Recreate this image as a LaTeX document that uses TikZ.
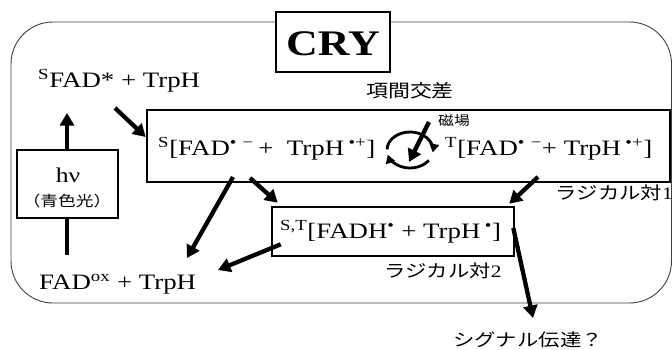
\documentclass[tikz,border=0pt]{standalone}
\usepackage{fontspec}
\setmainfont{Liberation Serif}
\newfontfamily\jp{Noto Sans CJK JP}
\usetikzlibrary{arrows.meta,calc,backgrounds}
\newcommand{\sx}[1]{\scalebox{1.22}[1]{#1}}
\begin{document}
\begin{tikzpicture}[x=1pt,y=1pt,
  txt/.style={inner sep=0pt, font=\fontsize{22}{26}\selectfont},
  jpt/.style={inner sep=0pt, font=\jp\fontsize{17.5}{20}\selectfont},
  box/.style={draw, line width=2.6pt, inner sep=0pt, fill=white},
  thinbox/.style={draw, line width=1.1pt, inner sep=0pt, fill=white},
  arr/.style={line width=4.3pt, -{Triangle[length=12.5pt,width=14pt]}},
  cycarr/.style={line width=2.8pt, -{Triangle[length=8.5pt,width=9.5pt]}}]
\useasboundingbox (0,0) rectangle (672,-349);

% CRY title
\node[box, minimum width=114pt, minimum height=60pt] (cry) at (333,-42) {};
\node[anchor=base, inner sep=0pt, font=\fontsize{36}{40}\selectfont\bfseries] (crytxt) at (333,-55) {\sx{CRY}};

% free texts
\node[txt, anchor=base west] (sfad) at (38,-87) {\sx{\textsuperscript{S}FAD* + TrpH}};
\node[txt, anchor=base west] (fadox) at (39,-289) {\sx{FAD\textsuperscript{ox} + TrpH}};

% h nu box
\node[thinbox, minimum width=101pt, minimum height=68pt] (hv) at (67.5,-184) {};
\node[inner sep=0pt, anchor=base, font=\fontsize{21}{24}\selectfont] (hvtxt) at (68,-182) {\sx{hν}};
\node[inner sep=0pt, font=\jp\fontsize{14.5}{16}\selectfont] (blue) at (67,-200.5) {\sx{（青色光）}};

% radical pair 1
\node[box, minimum width=523pt, minimum height=72pt] (rp1) at (408.5,-146) {};
\node[txt, anchor=base west] (s1) at (158,-155) {\sx{\textsuperscript{S}[FAD\textsuperscript{•\,\,−}\,+\ \ TrpH\,\textsuperscript{•+}]}};
\node[txt, anchor=base west] (t1) at (445,-155) {\sx{\textsuperscript{T}[FAD\textsuperscript{•\,\,−}+ TrpH\,\textsuperscript{•+}]}};
\node[jpt, font=\jp\fontsize{18}{20}\selectfont] (isc) at (410,-91) {\sx{項間交差}};
\node[inner sep=0pt, font=\jp\fontsize{13}{15}\selectfont] (mag) at (454,-121) {\sx{磁場}};
\node[jpt, anchor=east] (rp1lab) at (673,-193) {\sx{ラジカル対{\rmfamily 1}}};
\coordinate (cyc) at (410,-150);

% radical pair 2
\node[box, minimum width=242pt, minimum height=49pt] (rp2) at (393,-231.5) {};
\node[txt, anchor=base west] (st) at (280,-238) {\sx{\textsuperscript{S,T}[FADH\textsuperscript{•}\ + TrpH\,\textsuperscript{•}]}};
\node[jpt] (rp2lab) at (443,-271) {\sx{ラジカル対{\rmfamily 2}}};

\node[jpt] (sig) at (528,-340) {\sx{シグナル伝達？}};

% intersystem crossing cycle
\draw[cycarr] ($(cyc)+(178:23pt and 18pt)$) arc[start angle=178, end angle=-8, x radius=23pt, y radius=18pt];
\draw[cycarr] ($(cyc)+(-35:23pt and 18pt)$) arc[start angle=-35, end angle=-165, x radius=23pt, y radius=18pt];
\draw[arr] ($(cyc)+(19,28)$) -- ($(cyc)+(-1,-12)$);

% arrows
\draw[arr] ($(sfad.base west)+(77,-21)$) -- ($(rp1.west)+(0,9)$);
\draw[arr] ($(s1.base west)+(75,-22)$) -- ($(fadox.base west)+(148,31)$);
\draw[arr] ($(s1.base west)+(92,-23)$) -- ($(rp2.north west)+(7,3)$);
\draw[arr] ($(t1.base west)+(93,-22)$) -- ($(rp2.north east)+(-6,2)$);
\draw[arr] ($(rp2.south west)+(10,13)$) -- ($(fadox.base west)+(179,19)$);
\draw[arr] ($(rp2.east)+(-2,3.5)$) -- ($(sig.center)+(5,22)$);

\begin{pgfonlayer}{background}
\node[draw=black!75, line width=0.9pt, rounded corners=42pt, minimum width=660.5pt, minimum height=281pt, inner sep=0pt] (frame) at (341.25,-162.5) {};
\draw[arr] ($(fadox.base west)+(28,34)$) -- ($(sfad.base west)+(29,-26)$);
\end{pgfonlayer}
\end{tikzpicture}
\end{document}
